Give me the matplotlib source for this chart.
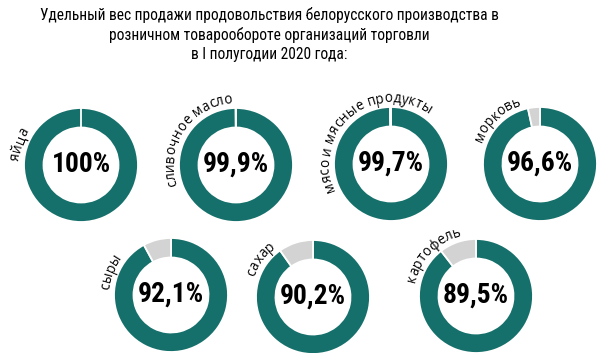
import numpy as np
import matplotlib
matplotlib.use('Agg')
import matplotlib.pyplot as plt
from matplotlib import font_manager
from matplotlib.textpath import TextToPath

# data
labels = ['яйца', 'сливочное масло', 'мясо и мясные продукты', 'морковь',
          'сыры', 'сахар', 'картофель']
shares = [100.0, 99.9, 99.7, 96.6, 92.1, 90.2, 89.5]
value_texts = ['100%', '99,9%', '99,7%', '96,6%', '92,1%', '90,2%', '89,5%']
title = ('Удельный вес продажи продовольствия белорусского производства в\n'
         'розничном товарообороте организаций торговли\n'
         'в I полугодии 2020 года:')

# layout (pixels, y from top)
centers_px = [(81, 165), (236, 165), (391, 164), (540, 164),
              (171, 295), (313, 297), (476, 296)]
label_start_deg = [176, 199, 205, 160, 175, 161, 168]
R_OUT, RING_W, R_TEXT = 57, 19.5, 62

teal = '#15706b'
grey = '#d3d3d3'

names = {f.name for f in font_manager.fontManager.ttflist}
narrow = next((n for n in ['Liberation Sans Narrow', 'Roboto Condensed', 'Open Sans Condensed']
               if n in names), 'DejaVu Sans')
fam = [narrow, 'DejaVu Sans']

W, H = 600, 353
fig = plt.figure(figsize=(6, 3.53), dpi=100)
ax = fig.add_axes([0, 0, 1, 1])
px2pt = 72 / 100

for (cx, cy), v in zip(centers_px, shares):
    ax.pie([v, 100 - v], startangle=90, counterclock=False, colors=[teal, grey],
           radius=R_OUT, center=(cx, H - cy), frame=True,
           wedgeprops=dict(width=RING_W, edgecolor='white', linewidth=1.3))

for (cx, cy), t in zip(centers_px, value_texts):
    ax.text(cx, H - cy + 1, t, ha='center', va='center', fontsize=27.5 * px2pt,
            fontweight='bold', family=fam)

# curved labels along the ring
ttp = TextToPath()
lab_fs = 13.5 * px2pt
fp = font_manager.FontProperties(family='Open Sans', size=lab_fs)


def text_w(s):
    if not s:
        return 0.0
    w, _, _ = ttp.get_text_width_height_descent(s.replace(' ', '\u00a0'), fp, ismath=False)
    return w / px2pt


for (cx, cy), lab, a0 in zip(centers_px, labels, label_start_deg):
    th0 = np.radians(a0)
    for i, ch in enumerate(lab):
        s_mid = (text_w(lab[:i]) + text_w(lab[:i + 1])) / 2
        th = th0 - s_mid / R_TEXT
        x = cx + R_TEXT * np.cos(th)
        y = H - cy + R_TEXT * np.sin(th)
        ax.text(x, y, ch, ha='center', va='baseline', rotation=np.degrees(th) - 90,
                rotation_mode='anchor', fontproperties=fp)

ax.text(269, H - 7, title, ha='center', va='top', fontsize=15.5 * px2pt,
        family=fam, linespacing=1.3)

ax.set_xlim(0, W)
ax.set_ylim(0, H)
ax.set_aspect('equal')
ax.axis('off')

plt.savefig('out.png', dpi=100)
